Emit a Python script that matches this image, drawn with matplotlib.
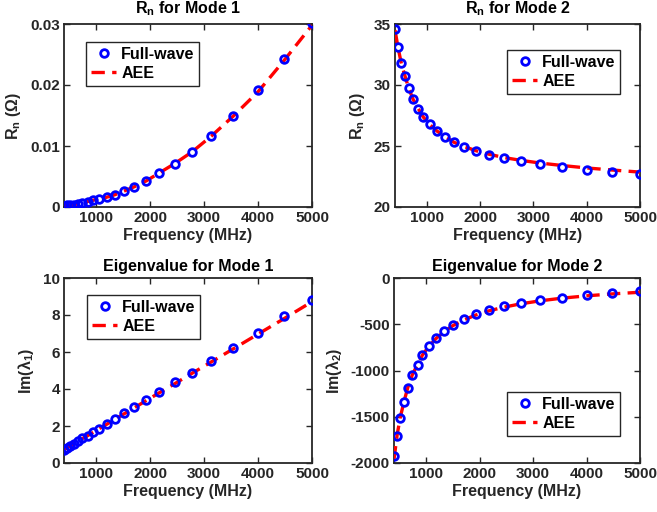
import matplotlib
matplotlib.use("Agg")
import matplotlib.pyplot as plt
from matplotlib.lines import Line2D

# ---------------- data ----------------
freq = [400, 460, 520, 590, 660, 740, 840, 930, 1050, 1190, 1340, 1510,
        1700, 1930, 2170, 2450, 2770, 3130, 3540, 4000, 4480, 5000]

rn1_fw = [0.0002, 0.00025, 0.0003, 0.0004, 0.0005, 0.00065, 0.0009, 0.0011,
          0.0013, 0.0016, 0.0020, 0.0026, 0.0033, 0.0043, 0.0056, 0.0071,
          0.0090, 0.0116, 0.0149, 0.0191, 0.0243, 0.0301]
rn1_aee = [0.0002, 0.00025, 0.0003, 0.0004, 0.0005, 0.00065, 0.0009, 0.0011,
           0.0013, 0.0016, 0.0020, 0.0026, 0.0033, 0.0043, 0.0056, 0.0071,
           0.0090, 0.0116, 0.0149, 0.0189, 0.0240, 0.0298]

rn2_fw = [34.56, 33.09, 31.83, 30.74, 29.73, 28.85, 28.06, 27.40, 26.78,
          26.23, 25.77, 25.30, 24.95, 24.59, 24.30, 24.01, 23.77, 23.52,
          23.28, 23.06, 22.88, 22.70]
rn2_aee = [34.50, 33.00, 31.75, 30.70, 29.70, 28.82, 28.04, 27.38, 26.76,
           26.22, 25.76, 25.30, 24.95, 24.60, 24.32, 24.05, 23.82, 23.60,
           23.40, 23.20, 23.03, 22.86]

im1_fw = [0.72, 0.82, 0.93, 1.05, 1.18, 1.33, 1.48, 1.65, 1.86, 2.12, 2.38,
          2.69, 3.03, 3.42, 3.86, 4.36, 4.86, 5.53, 6.23, 7.03, 7.93, 8.83]
im1_aee = [0.72, 0.82, 0.93, 1.05, 1.18, 1.32, 1.48, 1.64, 1.85, 2.09, 2.35,
           2.65, 2.98, 3.38, 3.80, 4.28, 4.84, 5.46, 6.17, 6.97, 7.80, 8.72]

im2_fw = [-1928, -1712, -1514, -1341, -1189, -1049, -940, -830, -731, -645,
          -569, -505, -443, -393, -350, -306, -270, -234, -213, -184, -162, -144]
im2_aee = [-1960, -1690, -1500, -1330, -1180, -1050, -935, -835, -740, -652,
           -578, -512, -455, -400, -356, -316, -279, -247, -218, -193, -172, -154]

xticks = [1000, 2000, 3000, 4000, 5000]
titles = ["R$_\\mathregular{n}$ for Mode 1", "R$_\\mathregular{n}$ for Mode 2",
          "Eigenvalue for Mode 1", "Eigenvalue for Mode 2"]
ylabels = ["R$_\\mathregular{n}$ ($\\Omega$)", "R$_\\mathregular{n}$ ($\\Omega$)",
           "Im($\\lambda_\\mathregular{1}$)", "Im($\\lambda_\\mathregular{2}$)"]
ylims = [(0, 0.03), (20, 35), (0, 10), (-2000, 0)]
yticks = [[0, 0.01, 0.02, 0.03], [20, 25, 30, 35], [0, 2, 4, 6, 8, 10],
          [-2000, -1500, -1000, -500, 0]]
yticklabels = [["0", "0.01", "0.02", "0.03"], ["20", "25", "30", "35"],
               ["0", "2", "4", "6", "8", "10"],
               ["-2000", "-1500", "-1000", "-500", "0"]]
legend_labels = ["Full-wave", "AEE"]

# ---------------- style ----------------
plt.rcParams['font.family'] = ['Liberation Sans', 'DejaVu Sans']
plt.rcParams['font.weight'] = 'bold'
plt.rcParams['mathtext.fontset'] = 'custom'
plt.rcParams['mathtext.rm'] = 'Liberation Sans:bold'
plt.rcParams['mathtext.it'] = 'DejaVu Serif'
plt.rcParams['mathtext.default'] = 'regular'

W, H = 657, 512
fig = plt.figure(figsize=(W / 100, H / 100), dpi=100)
dark = '#262626'

# axes boxes in pixels: left, top, right, bottom
boxes = [(64, 24, 312, 207), (395, 24, 640, 207),
         (64, 278, 312, 463), (394, 278, 640, 463)]
# legend upper-left corners in pixels
legpos = [(86, 42), (507, 50), (87, 295), (507, 392)]
title_pads = [7.5, 7.5, 5, 5]

series = [(rn1_fw, rn1_aee), (rn2_fw, rn2_aee), (im1_fw, im1_aee), (im2_fw, im2_aee)]

for i in range(4):
    l, t, r, b = boxes[i]
    ax = fig.add_axes([l / W, 1 - b / H, (r - l) / W, (b - t) / H])
    fw, aee = series[i]
    ax.plot(freq, aee, color='red', lw=2.4, ls=(0, (4, 2.2)), zorder=3)
    ax.plot(freq, fw, ls='none', marker='o', ms=5.5, mfc='none', mec='blue',
            mew=2.0, zorder=4)
    ax.set_xlim(400, 5000)
    ax.set_ylim(*ylims[i])
    ax.set_xticks(xticks)
    ax.set_yticks(yticks[i])
    ax.set_yticklabels(yticklabels[i])
    ax.tick_params(direction='in', top=True, right=True, length=4, width=1,
                   colors=dark, labelsize=11, pad=3)
    for lab in ax.get_xticklabels() + ax.get_yticklabels():
        lab.set_fontweight('bold')
    for s in ax.spines.values():
        s.set_color(dark)
        s.set_linewidth(1.3)
    ax.set_xlabel("Frequency (MHz)", fontsize=11.5, fontweight='bold',
                  color=dark, labelpad=2)
    ax.set_ylabel(ylabels[i], fontsize=11.5, fontweight='bold', color=dark,
                  labelpad=5)
    ax.set_title(titles[i], fontsize=11.5, fontweight='bold', color='black',
                 pad=title_pads[i])
    handles = [Line2D([], [], ls='none', marker='o', ms=5.5, mfc='none',
                      mec='blue', mew=2.0),
               Line2D([], [], color='red', lw=2.4, ls=(0, (4, 2.2)))]
    lx, ly = legpos[i]
    leg = ax.legend(handles, legend_labels, loc='upper left',
                    bbox_to_anchor=(lx / W, 1 - ly / H),
                    bbox_transform=fig.transFigure, fancybox=False,
                    framealpha=1, edgecolor=dark, borderpad=0.3,
                    handlelength=1.6, handletextpad=0.3, labelspacing=0.25,
                    prop={'size': 11.5, 'weight': 'bold'}, borderaxespad=0)
    leg.get_frame().set_linewidth(1.0)

fig.savefig("out.png", dpi=100)
